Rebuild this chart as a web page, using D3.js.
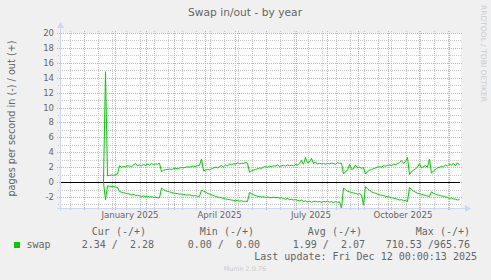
<!DOCTYPE html>
<html>
<head>
<meta charset="utf-8">
<script src="https://cdn.jsdelivr.net/npm/d3@7"></script>
<style>
body { margin: 0; background: #f0f0f0; }
svg text { font-family: "DejaVu Sans", sans-serif; fill: #666666; }
svg text.mono { font-family: "DejaVu Sans Mono", monospace; white-space: pre; font-size: 10px; }
</style>
</head>
<body>
<div class="chart-container"></div>
<script>
const chartWidth = 491;
const chartHeight = 280;

const plotLeft = 60;
const plotRight = 460;
const plotTop = 33;
const plotBottom = 208;

// samples every 2 days starting 21 Dec 2024
const firstSample = Date.UTC(2024, 11, 21);
const sampleStepDays = 2;

// pages/s swapped out (+)
const outValues = [
    0, 14.8, 0.85, 0.9, 0.95, 0.9, 1.0, 1.1,
    2.2, 2.0, 2.1, 2.05, 2.2, 2.15, 2.1, 2.3, 2.5, 2.2, 2.3, 2.2, 2.35, 2.25, 2.4, 2.3, 2.5, 2.35, 2.45, 2.4, 2.55,
    1.4, 1.6, 1.65, 1.7, 1.75, 1.7, 1.8, 1.85, 1.8, 1.9, 1.95, 1.9, 2.0, 2.05, 2.0, 2.1, 2.15, 2.1, 2.2, 2.25,
    3.1,
    1.5, 1.6, 1.7, 1.65, 1.8, 1.9, 2.0, 1.9, 2.1, 2.2, 2.05, 2.3, 2.2, 2.4, 2.3, 2.5, 2.4, 2.6, 2.45, 2.55, 2.5, 2.65, 2.55,
    1.3, 1.5, 1.6, 1.7, 1.8, 1.9, 1.85, 2.0, 2.1, 2.0, 2.15, 2.1, 2.2, 2.15, 2.3, 2.1, 2.2, 2.25, 2.15, 2.3, 2.2, 2.25, 2.2, 2.35, 2.3,
    2.5, 2.9, 2.4, 3.3, 2.6, 2.7, 3.2, 2.5, 2.7, 2.4, 2.55, 2.45, 2.5, 2.4, 2.5, 2.45, 2.55, 2.5, 2.4, 2.6, 2.5, 2.55,
    1.1, 1.4, 1.6, 2.4, 1.7, 1.8, 2.3, 1.9, 2.0, 1.85, 1.95,
    1.1, 1.4, 1.6, 1.7, 1.8, 1.9, 2.0, 2.1, 2.0, 2.2, 2.15, 2.25, 2.3, 2.2, 2.4, 2.35, 2.5, 2.6, 2.9, 2.5, 2.8, 3.3,
    1.0, 1.4, 1.6, 1.8, 2.0, 2.5, 1.9, 2.1, 2.2, 2.0, 3.1,
    1.2, 1.5, 1.7, 1.9, 2.0, 2.1, 2.05, 2.3, 2.2, 2.4, 2.3, 2.5, 2.2, 2.6, 2.28
];

// pages/s swapped in (-), drawn below zero
const inValues = [
    0, 2.4, 0.5, 0.55, 0.6, 0.6, 0.65, 0.7,
    1.25, 1.35, 1.4, 1.5, 1.55, 1.6, 1.7, 1.65, 1.8, 1.75, 1.85, 1.9, 1.85, 1.95, 1.9, 2.0, 1.95, 2.05, 2.0, 2.1, 2.1,
    0.8, 1.0, 1.15, 1.25, 1.3, 1.4, 1.45, 1.5, 1.55, 1.6, 1.6, 1.65, 1.7, 1.75, 1.7, 1.8, 1.85, 1.8, 1.9, 1.9,
    1.1,
    1.2, 1.35, 1.5, 1.6, 1.7, 1.8, 1.9, 2.0, 2.05, 2.1, 2.2, 2.25, 2.3, 2.35, 2.4, 2.45, 2.5, 2.45, 2.55, 2.5, 2.6, 2.55, 2.6,
    1.4, 1.55, 1.7, 1.8, 1.9, 1.95, 2.0, 1.95, 2.05, 2.0, 2.05, 2.1, 2.0, 2.1, 2.05, 2.15, 2.1, 2.2, 2.3, 2.2, 2.35, 2.3, 2.4, 2.35, 2.45,
    2.5, 2.4, 2.6, 2.5, 2.65, 2.55, 2.7, 2.6, 2.55, 2.65, 2.6, 2.7, 2.6, 2.65, 2.55, 2.7, 2.6, 2.75, 2.6, 2.7, 2.65, 3.5,
    0.8, 1.0, 1.2, 1.3, 1.4, 1.45, 1.5, 1.6, 1.55, 1.7, 3.1,
    0.6, 0.9, 1.1, 1.3, 1.4, 1.5, 1.6, 1.7, 1.75, 1.8, 1.9, 1.95, 2.0, 2.1, 2.15, 2.2, 2.3, 2.4, 2.35, 2.5, 2.45, 2.6,
    0.7, 1.0, 1.2, 1.35, 1.5, 1.55, 1.65, 1.7, 1.8, 1.85, 1.9,
    1.3, 1.5, 1.6, 1.7, 1.8, 1.85, 1.9, 2.0, 2.05, 2.2, 2.1, 2.25, 2.3, 2.4, 2.34
];

const yMajorTicks = [-2, 0, 2, 4, 6, 8, 10, 12, 14, 16, 18, 20];
const yMinorTicks = [-3, -1, 1, 3, 5, 7, 9, 11, 13, 15, 17, 19];
const monthLabels = ["January 2025", "April 2025", "July 2025", "October 2025"];
const monthLabelDates = [Date.UTC(2025, 0, 16, 12), Date.UTC(2025, 3, 16), Date.UTC(2025, 6, 16, 12), Date.UTC(2025, 9, 16, 12)];

const legendName = "swap";
const legendHeaders = ["Cur (-/+)", "Min (-/+)", "Avg (-/+)", "Max (-/+)"];
const legendValues = ["2.34 /  2.28", "0.00 /  0.00", "1.99 /  2.07", "710.53 /965.76"];
const lastUpdate = "Last update: Fri Dec 12 00:00:13 2025";

const axisColor = "#cfd6f8";
const lineColor = "#00cc00";

const svg = d3.select(".chart-container").append("svg")
    .attr("width", chartWidth)
    .attr("height", chartHeight)
    .style("display", "block");

svg.append("rect")
    .attr("width", chartWidth)
    .attr("height", chartHeight)
    .attr("fill", "#f0f0f0");

const x = d3.scaleUtc()
    .domain([Date.UTC(2024, 10, 7, 12), Date.UTC(2025, 11, 12, 12)])
    .range([plotLeft, plotRight]);

const y = d3.scaleLinear()
    .domain([-3.47, 20])
    .range([plotBottom, plotTop]);

svg.append("rect")
    .attr("x", plotLeft)
    .attr("y", plotTop)
    .attr("width", plotRight - plotLeft + 1)
    .attr("height", plotBottom - plotTop)
    .attr("fill", "#ffffff");

// minor grid
const [t0, t1] = x.domain();
const minorDays = d3.utcDay.range(new Date(Date.UTC(2024, 10, 17)), t1, 14);

svg.append("g").selectAll("line").data(minorDays).join("line")
    .attr("x1", d => Math.round(x(d)) + 0.5)
    .attr("x2", d => Math.round(x(d)) + 0.5)
    .attr("y1", plotTop - 2)
    .attr("y2", plotBottom + 2)
    .attr("stroke", "#c8c8c8")
    .attr("stroke-dasharray", "1,1");

svg.append("g").selectAll("line").data(yMinorTicks).join("line")
    .attr("x1", plotLeft - 2)
    .attr("x2", plotRight + 2)
    .attr("y1", d => Math.round(y(d)) + 0.5)
    .attr("y2", d => Math.round(y(d)) + 0.5)
    .attr("stroke", "#c8c8c8")
    .attr("stroke-dasharray", "1,1");

// major grid
const months = d3.utcMonth.range(t0, t1);

svg.append("g").selectAll("line").data(months).join("line")
    .attr("x1", d => Math.round(x(d)) + 0.5)
    .attr("x2", d => Math.round(x(d)) + 0.5)
    .attr("y1", plotTop - 2)
    .attr("y2", plotBottom + 3)
    .attr("stroke", "#f0a0a0")
    .attr("stroke-dasharray", "1,1");

svg.append("g").selectAll("line").data(yMajorTicks).join("line")
    .attr("x1", plotLeft - 3)
    .attr("x2", plotRight + 2)
    .attr("y1", d => Math.round(y(d)) + 0.5)
    .attr("y2", d => Math.round(y(d)) + 0.5)
    .attr("stroke", "#f0a0a0")
    .attr("stroke-dasharray", "1,1");

// y tick labels
svg.append("g").selectAll("text").data(yMajorTicks).join("text")
    .attr("x", plotLeft - 6)
    .attr("y", d => y(d) + 3)
    .attr("text-anchor", "end")
    .attr("font-size", "8.5px")
    .text(d => d);

// x labels
svg.append("g").selectAll("text").data(monthLabels).join("text")
    .attr("x", (d, i) => x(monthLabelDates[i]))
    .attr("y", 218)
    .attr("text-anchor", "middle")
    .attr("font-size", "8.6px")
    .text(d => d);

// zero line
svg.append("line")
    .attr("x1", plotLeft)
    .attr("x2", plotRight)
    .attr("y1", Math.round(y(0)) + 0.5)
    .attr("y2", Math.round(y(0)) + 0.5)
    .attr("stroke", "#000000");

// series
const sampleDate = i => new Date(firstSample + i * sampleStepDays * 86400000);

const outLine = d3.line()
    .x((d, i) => x(sampleDate(i)))
    .y(d => y(d));

const inLine = d3.line()
    .x((d, i) => x(sampleDate(i)))
    .y(d => y(-d));

svg.append("path")
    .attr("d", inLine(inValues))
    .attr("fill", "none")
    .attr("stroke", lineColor)
    .attr("stroke-width", 1);

svg.append("path")
    .attr("d", outLine(outValues))
    .attr("fill", "none")
    .attr("stroke", lineColor)
    .attr("stroke-width", 1);

// axes with arrows
svg.append("line")
    .attr("x1", plotLeft + 0.5).attr("x2", plotLeft + 0.5)
    .attr("y1", plotBottom + 3).attr("y2", plotTop - 5)
    .attr("stroke", axisColor);

svg.append("path")
    .attr("d", `M${plotLeft - 3},${plotTop - 5} L${plotLeft + 4},${plotTop - 5} L${plotLeft + 0.5},${plotTop - 11} Z`)
    .attr("fill", axisColor);

svg.append("line")
    .attr("x1", plotLeft - 3).attr("x2", plotRight + 5)
    .attr("y1", plotBottom + 0.5).attr("y2", plotBottom + 0.5)
    .attr("stroke", axisColor);

svg.append("path")
    .attr("d", `M${plotRight + 5},${plotBottom - 3} L${plotRight + 5},${plotBottom + 4} L${plotRight + 11},${plotBottom + 0.5} Z`)
    .attr("fill", axisColor);

// titles
svg.append("text")
    .attr("x", 245)
    .attr("y", 16)
    .attr("text-anchor", "middle")
    .attr("font-size", "10.7px")
    .text("Swap in/out - by year");

svg.append("text")
    .attr("transform", "translate(14.5,118.5) rotate(-90)")
    .attr("text-anchor", "middle")
    .attr("font-size", "9.7px")
    .text("pages per second in (-) / out (+)");

svg.append("text")
    .attr("transform", "translate(481,5) rotate(90)")
    .attr("text-anchor", "start")
    .attr("font-size", "7.5px")
    .attr("textLength", 97)
    .attr("lengthAdjust", "spacingAndGlyphs")
    .style("fill", "#cccccc")
    .text("RRDTOOL / TOBI OETIKER");

// legend
const headerEnds = [146, 254, 362, 470];
const valueEnds = [154, 260, 365, 470];

svg.append("g").selectAll("text").data(legendHeaders).join("text")
    .attr("class", "mono")
    .attr("x", (d, i) => headerEnds[i])
    .attr("y", 235)
    .attr("text-anchor", "end")
    .text(d => d);

svg.append("rect")
    .attr("x", 14)
    .attr("y", 242)
    .attr("width", 6)
    .attr("height", 6)
    .attr("fill", lineColor);

svg.append("text")
    .attr("class", "mono")
    .attr("x", 26.5)
    .attr("y", 248)
    .text(legendName);

svg.append("g").selectAll("text").data(legendValues).join("text")
    .attr("class", "mono")
    .attr("x", (d, i) => valueEnds[i])
    .attr("y", 248)
    .attr("text-anchor", "end")
    .text(d => d);

svg.append("text")
    .attr("class", "mono")
    .attr("x", 477)
    .attr("y", 260)
    .attr("text-anchor", "end")
    .text(lastUpdate);

svg.append("text")
    .attr("x", 245)
    .attr("y", 271)
    .attr("text-anchor", "middle")
    .attr("font-size", "6.5px")
    .style("fill", "#cccccc")
    .text("Munin 2.0.76");
</script>
</body>
</html>
